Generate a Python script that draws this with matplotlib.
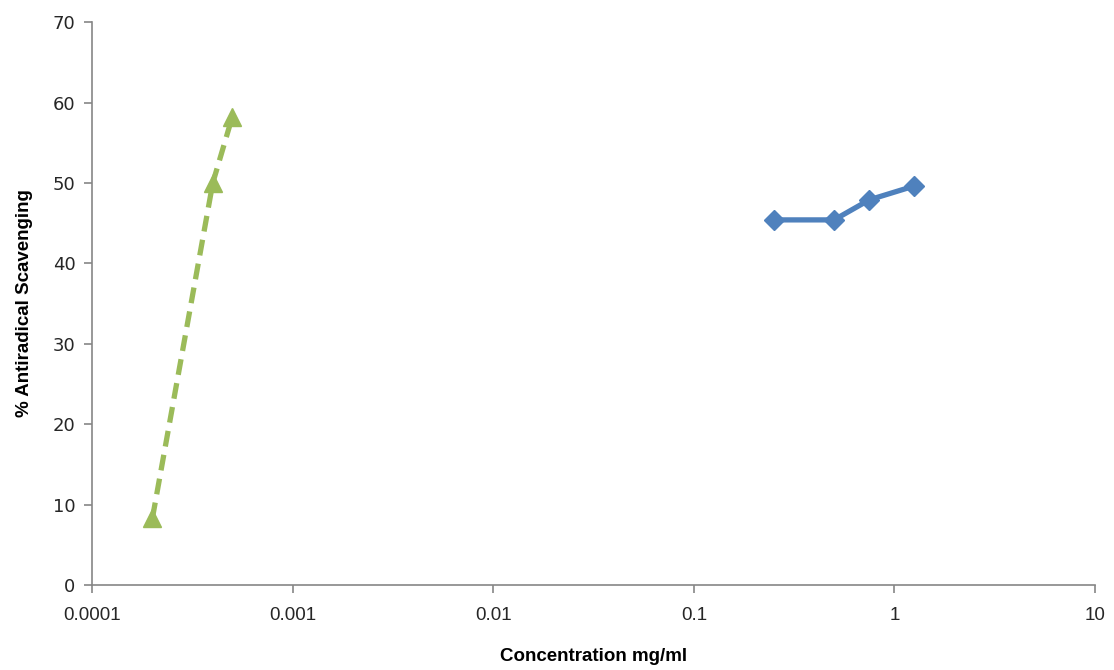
import matplotlib
matplotlib.use("Agg")
import matplotlib.pyplot as plt
from matplotlib.ticker import FixedLocator, FixedFormatter, NullLocator

# standard (dashed green) and extract (solid blue)
std_conc = [0.0002, 0.0004, 0.0005]
std_scav = [8.3, 50.0, 58.2]
ext_conc = [0.25, 0.5, 0.75, 1.25]
ext_scav = [45.4, 45.4, 47.9, 49.6]

x_ticks = [0.0001, 0.001, 0.01, 0.1, 1, 10]
x_labels = ["0.0001", "0.001", "0.01", "0.1", "1", "10"]
y_ticks = [0, 10, 20, 30, 40, 50, 60, 70]

fig = plt.figure(figsize=(11.14, 6.7), dpi=100)
ax = fig.add_axes([0.0826, 0.127, 0.9004, 0.840])

ax.plot(std_conc, std_scav, color="#9BBB59", linestyle=(0, (3, 1.6)), linewidth=3.8,
        marker="^", markersize=13, clip_on=False)
ax.plot(ext_conc, ext_scav, color="#4F81BD", linestyle="-", linewidth=3.8,
        marker="D", markersize=10, clip_on=False)

ax.set_xscale("log")
ax.set_xlim(0.0001, 10)
ax.set_ylim(0, 70)
ax.xaxis.set_major_locator(FixedLocator(x_ticks))
ax.xaxis.set_major_formatter(FixedFormatter(x_labels))
ax.xaxis.set_minor_locator(NullLocator())
ax.set_yticks(y_ticks)

for s in ["top", "right"]:
    ax.spines[s].set_visible(False)
for s in ["left", "bottom"]:
    ax.spines[s].set_color("#868686")
    ax.spines[s].set_linewidth(1.2)
ax.tick_params(axis="both", colors="#868686", length=6, width=1.2)
ax.tick_params(axis="y", labelsize=13, labelcolor="#262626", pad=6)
ax.tick_params(axis="x", labelsize=13.5, labelcolor="#262626", pad=10)
for lab in ax.get_yticklabels():
    lab.set_family("DejaVu Sans")
for lab in ax.get_xticklabels():
    lab.set_family("Liberation Sans")

ax.set_xlabel("Concentration mg/ml", fontsize=13.5, fontweight="bold",
              family="Liberation Sans", labelpad=17)
ax.set_ylabel("% Antiradical Scavenging", fontsize=13.5, fontweight="bold",
              family="Liberation Sans", labelpad=14)

fig.savefig("out.png", dpi=100)
